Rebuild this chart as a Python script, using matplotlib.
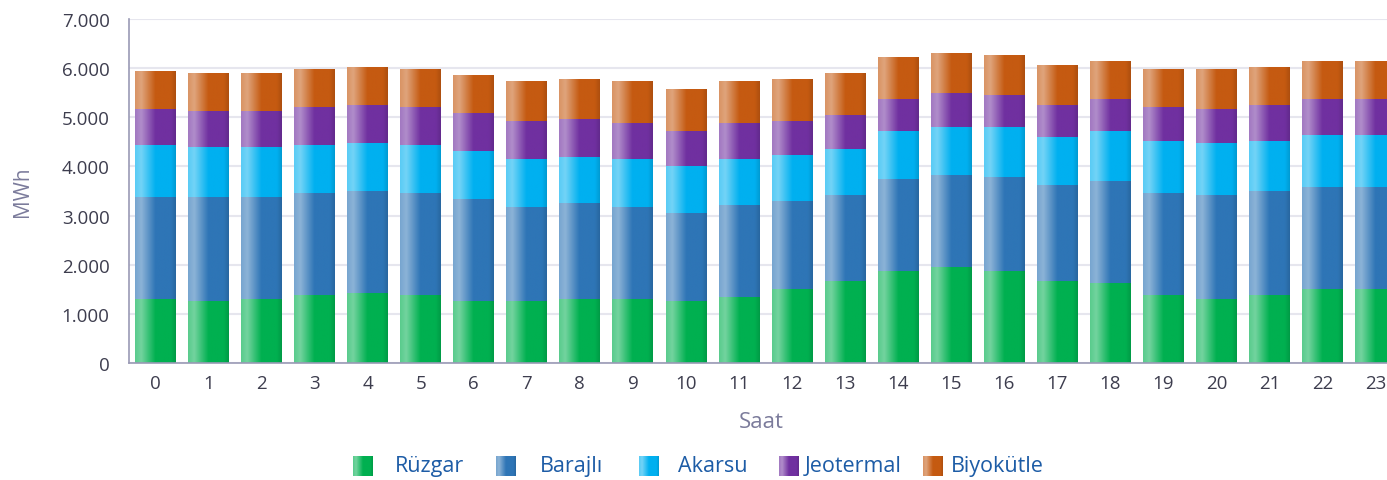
import matplotlib.pyplot as plt
import numpy as np
from matplotlib.colors import to_rgb
from matplotlib.ticker import FuncFormatter

plt.rcParams['font.family'] = ['Open Sans', 'DejaVu Sans']

hours = list(range(24))
series_names = ["Rüzgar", "Barajlı", "Akarsu", "Jeotermal", "Biyokütle"]
colors = ["#00b050", "#2e75b6", "#00b0f0", "#7030a0", "#c55a11"]

ruzgar = [1310, 1270, 1310, 1390, 1430, 1390, 1270, 1270, 1310, 1310, 1270, 1350,
          1510, 1670, 1880, 1960, 1880, 1670, 1630, 1390, 1310, 1390, 1510, 1510]
barajli = [2070, 2110, 2070, 2070, 2070, 2070, 2070, 1910, 1950, 1870, 1790, 1870,
           1790, 1750, 1870, 1870, 1910, 1950, 2070, 2070, 2110, 2110, 2070, 2070]
akarsu = [1060, 1020, 1020, 980, 980, 980, 980, 980, 940, 980, 940, 940,
          940, 940, 980, 980, 1020, 980, 1020, 1060, 1060, 1020, 1060, 1060]
jeotermal = [730, 730, 730, 770, 770, 770, 770, 770, 770, 730, 730, 730,
             690, 690, 650, 690, 650, 650, 650, 690, 690, 730, 730, 730]
biyokutle = [770, 770, 770, 770, 770, 770, 770, 810, 810, 850, 850, 850,
             850, 850, 850, 810, 810, 810, 770, 770, 810, 770, 770, 770]

data = [ruzgar, barajli, akarsu, jeotermal, biyokutle]


def gradient(color, n=64):
    base = np.array(to_rgb(color))
    white = np.ones(3)
    stops = [0.0, 0.15, 0.5, 0.88, 1.0]
    cols = [base + (white - base) * 0.35, base + (white - base) * 0.45,
            base, base, base * 0.88]
    t = np.linspace(0, 1, n)
    img = np.stack([np.interp(t, stops, [c[k] for c in cols]) for k in range(3)], axis=-1)
    return img[np.newaxis, :, :]


W, H = 1387, 481
fig = plt.figure(figsize=(W / 100, H / 100), dpi=100)
ax = fig.add_axes([129 / W, (H - 364) / H, (1402 - 129) / W, 344 / H])

width = 0.77
bottom = np.zeros(len(hours))
for vals, col in zip(data, colors):
    bars = ax.bar(hours, vals, width, bottom=bottom, facecolor='none', edgecolor='none')
    img = gradient(col)
    for b in bars:
        x0, y0 = b.get_x(), b.get_y()
        ax.imshow(img, extent=(x0, x0 + b.get_width(), y0, y0 + b.get_height()),
                  aspect='auto', zorder=2, interpolation='bilinear')
    bottom += np.array(vals)

ax.set_xlim(-0.5, 23.5)
ax.set_ylim(0, 7000)
ax.set_xticks(hours)
ax.set_xticklabels([str(h) for h in hours])
ax.set_yticks(range(0, 7001, 1000))
ax.yaxis.set_major_formatter(FuncFormatter(lambda v, p: f"{int(v):,}".replace(",", ".")))
ax.tick_params(axis='both', length=0, labelsize=13.5, labelcolor='#3d3d4e')
ax.tick_params(axis='x', pad=8)
ax.tick_params(axis='y', pad=14)

ax.grid(axis='y', color='#e6e6ee', linewidth=1.5, zorder=0)
ax.set_axisbelow(True)
for s in ['top', 'right']:
    ax.spines[s].set_visible(False)
ax.spines['left'].set_color('#9a9ab5')
ax.spines['bottom'].set_color('#9a9ab5')
ax.spines['left'].set_linewidth(1.2)
ax.spines['bottom'].set_linewidth(1.2)

fig.text(761 / W, 1 - 423 / H, "Saat", ha='center', va='center', fontsize=16, color='#7b7b9b')
fig.text(22 / W, 1 - 192 / H, "MWh", ha='center', va='center', rotation=90, fontsize=15,
         color='#7b7b9b')

# legend
sq_x = [353, 496, 639, 779, 923]
txt_x = [395, 540, 678, 805, 951]
ly = 467
for name, col, sx, tx in zip(series_names, colors, sq_x, txt_x):
    lax = fig.add_axes([sx / W, 1 - (ly + 10) / H, 20 / W, 20 / H])
    lax.imshow(gradient(col), aspect='auto', interpolation='bilinear')
    lax.axis('off')
    fig.text(tx / W, 1 - ly / H, name, ha='left', va='center', fontsize=15.5, color='#1d5ca6')

fig.savefig("out.png", dpi=100)
